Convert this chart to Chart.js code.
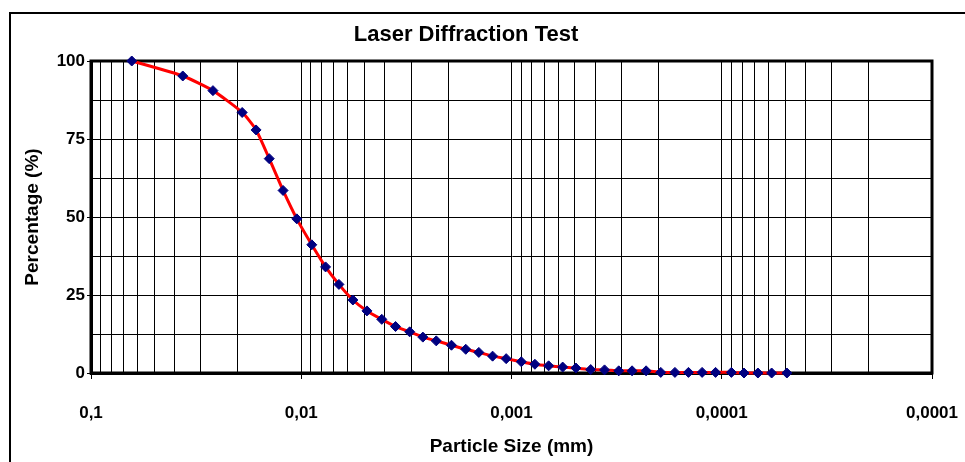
<!DOCTYPE html>
<html>
<head>
<meta charset="utf-8">
<script src="https://cdn.jsdelivr.net/npm/chart.js@4.4.1/dist/chart.umd.min.js"></script>
<style>
  html, body { margin: 0; padding: 0; background: #ffffff; }
  #wrap { width: 965px; height: 462px; position: relative; }
</style>
</head>
<body>
<div id="wrap"><canvas id="c" width="965" height="462"></canvas></div>
<script>
// ---- data ----
const chartTitle = 'Laser Diffraction Test';
const xTitle = 'Particle Size (mm)';
const yTitle = 'Percentage (%)';

// particle size (mm)
const sizes = [0.0640, 0.0366, 0.0263, 0.0191, 0.0164, 0.0142, 0.0122, 0.0105, 0.00891, 0.00766,
  0.00662, 0.00568, 0.00487, 0.00414, 0.00356, 0.00305, 0.00264, 0.00228, 0.00193, 0.00165,
  0.00143, 0.00123, 0.00106, 0.000898, 0.000774, 0.000666, 0.000571, 0.000494, 0.000420, 0.000361,
  0.000309, 0.000267, 0.000229, 0.000195, 0.000167, 0.000144, 0.000124, 0.000107, 0.0000900, 0.0000784,
  0.0000673, 0.0000579, 0.0000490];
// cumulative percentage passing (%)
const percents = [100, 95.2, 90.5, 83.5, 77.9, 68.7, 58.5, 49.4, 41.1, 34.0,
  28.4, 23.4, 19.9, 17.2, 14.9, 13.2, 11.5, 10.3, 8.9, 7.6,
  6.6, 5.4, 4.6, 3.6, 2.8, 2.3, 1.9, 1.6, 1.1, 1.0,
  0.7, 0.7, 0.7, 0.2, 0.2, 0.2, 0.2, 0.2, 0.2, 0,
  0, 0, 0];

// x-axis decades and their printed labels
const decadeValues = [0.1, 0.01, 0.001, 0.0001, 0.00001];
const tickLabels = ['0,1', '0,01', '0,001', '0,0001', '0,0001'];
// y-axis
const yMin = 0, yMax = 100, yGridStep = 12.5, yLabelStep = 25;

// ---- build ----
const points = sizes.map((s, i) => ({ x: s, y: percents[i] }));

// all 1..9 x 10^k grid positions between the end decades
const xGrid = [];
for (let e = -5; e < -1; e++) {
  for (let m = 1; m <= 9; m++) xGrid.push(+(m * Math.pow(10, e)).toPrecision(6));
}
xGrid.push(0.1);

function isDecade(v) {
  return decadeValues.findIndex(d => Math.abs(d - v) / d < 1e-6);
}

const FONT = "'Liberation Sans', Arial, sans-serif";

const framePlugin = {
  id: 'frames',
  beforeDraw(chart) {
    const ctx = chart.ctx;
    ctx.save();
    ctx.fillStyle = '#ffffff';
    ctx.fillRect(0, 0, chart.width, chart.height);
    ctx.strokeStyle = '#000000';
    ctx.lineWidth = 2;
    ctx.beginPath();
    ctx.moveTo(10, 475);
    ctx.lineTo(10, 13);
    ctx.lineTo(975, 13);
    ctx.stroke();
    ctx.restore();
  },
  beforeDatasetsDraw(chart) {
    const a = chart.chartArea;
    const ctx = chart.ctx;
    ctx.save();
    ctx.strokeStyle = '#000000';
    ctx.lineWidth = 3;
    ctx.strokeRect(a.left, a.top, a.right - a.left, a.bottom - a.top);
    ctx.restore();
  }
};

new Chart(document.getElementById('c'), {
  type: 'line',
  data: {
    datasets: [{
      data: points,
      borderColor: '#ff0000',
      borderWidth: 3,
      tension: 0.2,
      pointStyle: 'rectRot',
      pointRadius: 5,
      pointBackgroundColor: '#000080',
      pointBorderColor: '#000080',
      pointBorderWidth: 1,
      clip: false,
      fill: false
    }]
  },
  options: {
    responsive: false,
    animation: false,
    devicePixelRatio: 1,
    layout: { padding: { left: 0, right: 33, top: 0, bottom: 0 } },
    plugins: {
      legend: { display: false },
      tooltip: { enabled: false },
      title: {
        display: true,
        text: chartTitle,
        color: '#000000',
        font: { family: FONT, size: 22, weight: 'bold', lineHeight: 1.2 },
        padding: { top: 22, bottom: 12.6 },
        align: 'center'
      }
    },
    scales: {
      x: {
        type: 'logarithmic',
        reverse: true,
        min: 0.00001,
        max: 0.1,
        afterBuildTicks(scale) {
          scale.ticks = xGrid.map(v => ({ value: v, major: isDecade(v) >= 0 }));
        },
        afterFit(scale) { scale.height = 89; },
        grid: {
          color: '#000000',
          lineWidth: 1,
          drawTicks: true,
          tickLength: 6,
          tickColor: (ctx) => (ctx.tick && isDecade(ctx.tick.value) >= 0) ? '#000000' : 'rgba(0,0,0,0)'
        },
        border: { display: true, color: '#000000', width: 3 },
        ticks: {
          autoSkip: false,
          maxRotation: 0,
          minRotation: 0,
          padding: 24,
          color: '#000000',
          font: { family: FONT, size: 17, weight: 'bold', lineHeight: 1.2 },
          callback: function (value) {
            const i = isDecade(value);
            return i >= 0 ? tickLabels[i] : '';
          }
        },
        title: {
          display: true,
          text: xTitle,
          color: '#000000',
          font: { family: FONT, size: 19, weight: 'bold', lineHeight: 1.2 },
          padding: { top: 0, bottom: 4 }
        }
      },
      y: {
        min: yMin,
        max: yMax,
        afterFit(scale) { scale.width = 91; },
        grid: {
          color: '#000000',
          lineWidth: 1,
          drawTicks: true,
          tickLength: 4,
          tickColor: (ctx) => (ctx.tick && ctx.tick.value % yLabelStep === 0) ? '#000000' : 'rgba(0,0,0,0)'
        },
        border: { display: true, color: '#000000', width: 3 },
        ticks: {
          stepSize: yGridStep,
          autoSkip: false,
          padding: 2,
          color: '#000000',
          font: { family: FONT, size: 17, weight: 'bold', lineHeight: 1.2 },
          callback: function (value) {
            return value % yLabelStep === 0 ? String(value) : '';
          }
        },
        title: {
          display: true,
          text: yTitle,
          color: '#000000',
          font: { family: FONT, size: 19, weight: 'bold', lineHeight: 1.2 },
          padding: { top: 21, bottom: 0 }
        }
      }
    }
  },
  plugins: [framePlugin]
});
</script>
</body>
</html>
